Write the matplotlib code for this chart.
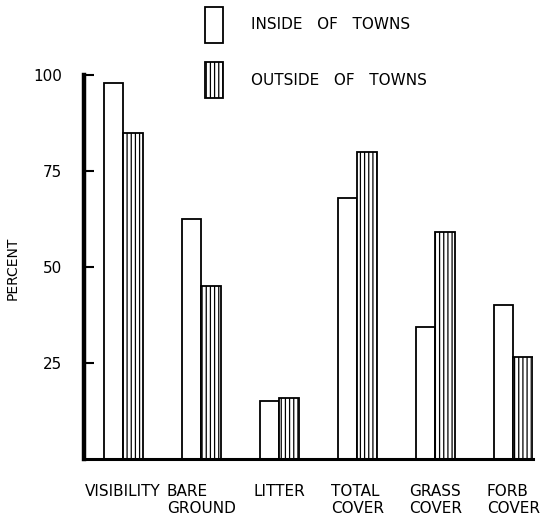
import numpy as np
import matplotlib
matplotlib.use("Agg")
import matplotlib.pyplot as plt
from matplotlib.patches import Patch

# values (percent)
categories = ["VISIBILITY", "BARE\nGROUND", "LITTER", "TOTAL\nCOVER", "GRASS\nCOVER", "FORB\nCOVER"]
inside_towns = [98, 62.5, 15, 68, 34.5, 40]
outside_towns = [85, 45, 16, 80, 59, 26.5]
yticks = [25, 50, 75, 100]

plt.rcParams["font.family"] = "DejaVu Sans"
plt.rcParams["hatch.linewidth"] = 0.9

fig = plt.figure(figsize=(5.55, 5.17), dpi=100)
ax = fig.add_axes([84 / 555, 1 - 459 / 517, 449 / 555, 384 / 517])

x = np.arange(len(categories))
w = 0.25
ax.bar(x - w / 2, inside_towns, w, facecolor="white", edgecolor="black", linewidth=1.3)
ax.bar(x + w / 2, outside_towns, w, facecolor="white", edgecolor="black", linewidth=1.3,
       hatch="||||")

ax.set_xlim(-0.5, 5.25)
ax.set_ylim(0, 100)

# axes look: thick left/bottom, no top/right
for s in ["top", "right"]:
    ax.spines[s].set_visible(False)
ax.spines["left"].set_linewidth(3.2)
ax.spines["bottom"].set_linewidth(2.2)

ax.set_yticks(yticks)
ax.set_yticklabels([str(v) for v in yticks], fontsize=11)
ax.tick_params(axis="y", direction="in", length=7, width=1.5, pad=16)

ax.set_xticks(x)
ax.set_xticklabels(categories, fontsize=11, multialignment="left", linespacing=1.15)
ax.tick_params(axis="x", length=0, pad=18)

ax.set_ylabel("PERCENT", fontsize=10)
ax.yaxis.set_label_coords(-0.1425, 0.497)

handles = [
    Patch(facecolor="white", edgecolor="black", linewidth=1.3, label="INSIDE   OF   TOWNS"),
    Patch(facecolor="white", edgecolor="black", linewidth=1.3, hatch="||||",
          label="OUTSIDE   OF   TOWNS"),
]
fig.legend(handles=handles, loc="upper left", bbox_to_anchor=(205 / 555, 1 - 7 / 517),
           bbox_transform=fig.transFigure, frameon=False, fontsize=11,
           handlelength=1.2, handleheight=3.2, handletextpad=1.8, labelspacing=1.3,
           borderpad=0, borderaxespad=0)

fig.savefig("out.png", dpi=100)
